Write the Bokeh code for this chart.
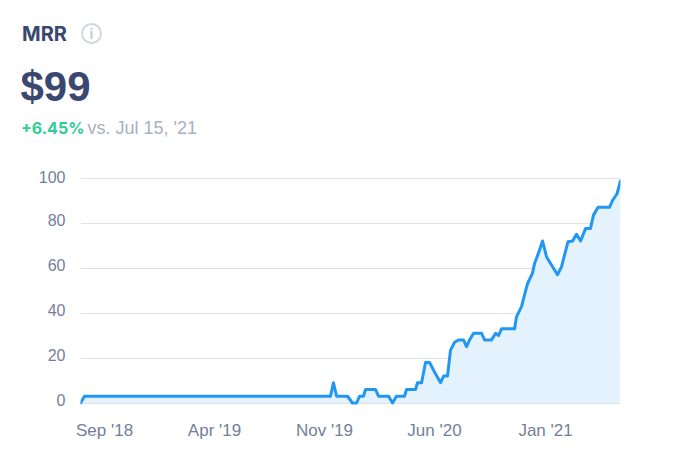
from bokeh.plotting import figure
from bokeh.layouts import column
from bokeh.models import Range1d, FixedTicker
from bokeh.core.properties import value
from bokeh.embed import file_html
from bokeh.resources import INLINE

months = [0, .25, 15.91, 16.10, 16.30, 17.0, 17.31, 17.57, 17.76, 18.01, 18.14, 18.78, 18.97, 19.61, 19.86,
          20.11, 20.62, 20.75, 21.32, 21.45, 21.71, 21.96, 22.22, 22.47, 22.92, 23.11, 23.36, 23.55, 23.81,
          24.06, 24.38, 24.57, 24.76, 25.02, 25.53, 25.72, 26.16, 26.42, 26.61, 26.80, 27.63, 27.75, 28.07,
          28.26, 28.45, 28.77, 28.90, 29.15, 29.41, 29.66, 29.92, 30.36, 30.62, 30.81, 31.03, 31.32, 31.57,
          31.83, 32.15, 32.46, 32.65, 32.94, 33.67, 33.86, 34.15, 34.37]
mrr = [0, 3, 3, 9, 3, 3, 0, 0, 3, 3, 6, 6, 3, 3, 0,
       3, 3, 6, 6, 9, 9, 18, 18, 14.6, 9, 12, 12, 23.5, 27,
       28, 28, 25, 28, 31, 31, 28, 28, 31, 30, 33, 33, 38.3, 42.8,
       48, 53, 57.7, 62, 66.6, 72, 65, 62, 57, 60.6, 65.8, 71.7, 72, 75,
       72, 77.6, 77.6, 83.5, 87, 87, 90, 93, 98.7]
x_ticks = [1.53, 8.53, 15.53, 22.53, 29.6]
x_labels = ["Sep '18", "Apr '19", "Nov '19", "Jun '20", "Jan '21"]
y_ticks = [0, 20, 40, 60, 80, 100]

FONT = "Liberation Sans"
W, HEAD, BODY = 672, 170, 294

# header strip: its ranges are page pixels
h = figure(width=W, height=HEAD, output_backend="svg", toolbar_location=None,
           x_range=Range1d(0, W), y_range=Range1d(HEAD, 0),
           min_border=0, outline_line_color=None, x_axis_location=None, y_axis_location=None,
           frame_align=False)
h.grid.visible = False

def lab(text, px, py, size, color, style="normal", font=FONT, align="left"):
    h.text([px], [py], text=[text], text_color=color, text_font=value(font), text_font_size=size,
           text_font_style=style, text_baseline="middle", text_align=align)

lab("MRR", 21.5, 33, "20px", "#3a4870", "bold", font="Inter")
lab("$99", 20, 86, "42px", "#3a4870", "bold")
lab("+6.45%", 20.5, 127, "16px", "#2fcc96", "bold", font="Inter")
lab("vs. Jul 15, '21", 87, 127, "18px", "#aab0c1")
lab("i", 91, 33, "14px", "#c9cdd7", "bold", font="Inter", align="center")
h.scatter([91], [33], marker="circle", size=19, fill_color=None, line_color="#d3d6de", line_width=2)

p = figure(width=W, height=BODY, output_backend="svg", toolbar_location=None,
           x_range=Range1d(0, 34.37), y_range=Range1d(-2, 102),
           min_border_left=80, min_border_right=52, min_border_top=3, min_border_bottom=57,
           background_fill_color="white", border_fill_color="white", outline_line_color=None,
           frame_align=False)

p.xgrid.visible = False
p.ygrid.ticker = FixedTicker(ticks=y_ticks)
p.ygrid.grid_line_color = "#dde1e8"
p.ygrid.grid_line_width = 1

p.xaxis.ticker = FixedTicker(ticks=x_ticks)
p.xaxis.major_label_overrides = dict(zip(x_ticks, x_labels))
# the reference sets its tick labels slightly above their grid lines
label_lift = 1.4
p.yaxis.ticker = FixedTicker(ticks=[t + label_lift for t in y_ticks])
p.yaxis.major_label_overrides = {t + label_lift: str(t) for t in y_ticks}
for ax in (p.xaxis[0], p.yaxis[0]):
    ax.axis_line_color = None
    ax.major_tick_line_color = None
    ax.minor_tick_line_color = None
    ax.major_label_text_color = "#757e99"
    ax.major_label_text_font = FONT
p.yaxis.major_label_text_font_size = "16px"
p.xaxis.major_label_text_font_size = "17px"
p.yaxis.major_label_standoff = 9
p.xaxis.major_label_standoff = 7

p.varea(months, [0] * len(months), mrr, fill_color="#e3f2fd", fill_alpha=1)
p.line(months, mrr, line_color="#2196f3", line_width=3, line_join="round", line_cap="round")

open("out.html", "w").write(file_html(column(h, p, spacing=0), INLINE))
